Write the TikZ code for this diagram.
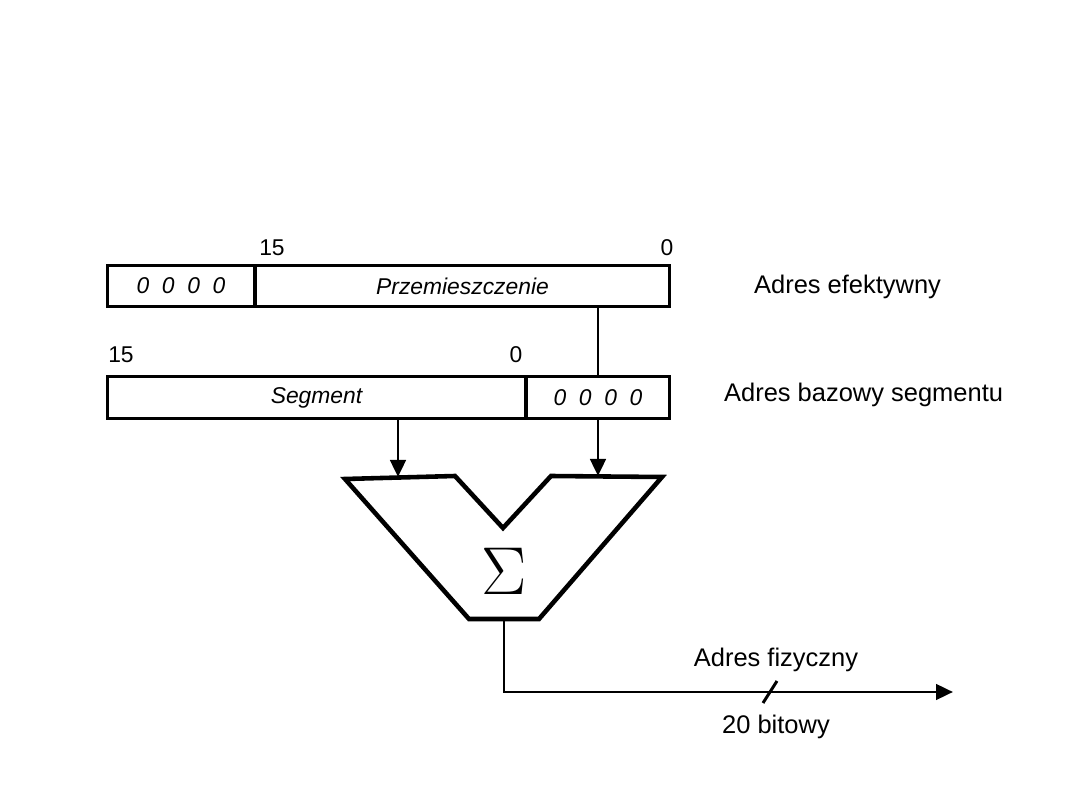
\documentclass[tikz,border=0pt]{standalone}
\usepackage{fontspec}
\setmainfont{Liberation Sans}
\usepackage{tikz}
\usetikzlibrary{arrows.meta,positioning,calc}
\tikzset{
  field/.style={rectangle, draw=black, line width=1.7pt, inner sep=0pt,
                minimum height=0.83cm, font=\fontsize{13}{15}\selectfont\itshape},
  bitno/.style={font=\fontsize{13}{15}\selectfont, inner sep=1pt},
  lab/.style={font=\fontsize{14.5}{16}\selectfont, inner sep=1pt},
  arr/.style={-{Triangle[length=3.4mm, width=3.1mm]}, line width=1.7pt},
  adder/.style={line width=2.6pt, line join=miter},
}

\begin{document}
\begin{tikzpicture}[x=0.02cm, y=-0.02cm]
\useasboundingbox (0,0) rectangle (1080,810);
% adres efektywny
\node[field, minimum width=2.96cm] (eaz) at (181,286) {0 \ 0 \ 0 \ 0};
\node[field, minimum width=8.3cm] (off) at (462.5,286) {Przemieszczenie};
\node[bitno] (eahi) at (272,248) {15};
\node[bitno] (ealo) at (667,248) {0};
\node[lab, anchor=west] (ealab) at (752,287) {Adres efektywny};
% adres bazowy segmentu
\node[field, minimum width=8.38cm] (seg) at (316.5,397.5) {Segment};
\node[field, minimum width=2.88cm] (bz) at (598,397.5) {0 \ 0 \ 0 \ 0};
\node[bitno] (sghi) at (121,355) {15};
\node[bitno] (sglo) at (516,355) {0};
\node[lab, anchor=west] (sglab) at (722,395) {Adres bazowy segmentu};
% sumator
\coordinate (in1) at (398,477);
\coordinate (in2) at (598,476);
\coordinate (out) at (504,619);
\draw[adder] (345,479) -- (455,476) -- (503,528) -- (551,476) -- (662,477)
  -- (539,619) -- (469,619) -- cycle;
\node[font=\Huge, scale=1.55] (sum) at (504,571) {$\Sigma$};
% polaczenia
\draw[line width=1.7pt] (off.south -| bz.north) -- (bz.north);
\draw[arr] (seg.south -| in1) -- (in1);
\draw[arr] (bz.south) -- (in2);
\coordinate (corner) at (504,692);
\coordinate (end) at (953,692);
\draw[arr] (out) -- (corner) -- (end);
\coordinate (tick) at (770,692);
\draw[line width=1.7pt] ($(tick)+(-7,11)$) -- ($(tick)+(7,-11)$);
\node[lab] (fizlab) at (776,660) {Adres fizyczny};
\node[lab] (bitlab) at (776,727) {20 bitowy};
\end{tikzpicture}
\end{document}
